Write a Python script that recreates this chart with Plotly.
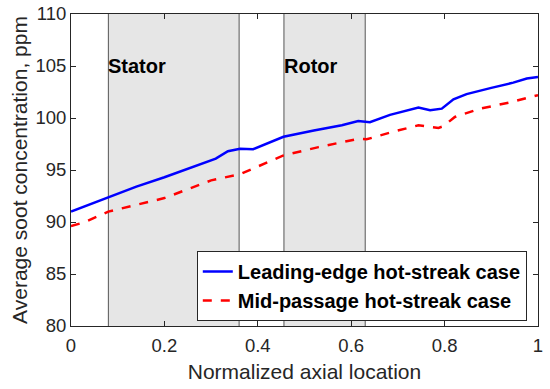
import plotly.graph_objects as go

# Data
le_x = [0, 0.03, 0.08, 0.14, 0.2, 0.27, 0.31, 0.336, 0.362, 0.39, 0.455, 0.52, 0.58,
        0.615, 0.64, 0.683, 0.72, 0.744, 0.769, 0.794, 0.819, 0.847, 0.9, 0.947, 0.976, 1.0]
le_y = [91.0, 91.5, 92.4, 93.4, 94.3, 95.4, 96.1, 96.8, 97.05, 97.0, 98.2, 98.8, 99.3,
        99.7, 99.6, 100.3, 100.7, 101.0, 100.75, 100.9, 101.8, 102.3, 102.9, 103.4, 103.8, 103.95]

mp_x = [0, 0.03, 0.08, 0.2, 0.3, 0.362, 0.455, 0.53, 0.615, 0.633, 0.683, 0.744,
        0.787, 0.797, 0.822, 0.876, 0.94, 1.0]
mp_y = [89.6, 90.0, 91.0, 92.3, 94.0, 94.6, 96.4, 97.2, 98.0, 97.95, 98.6, 99.3,
        99.05, 99.2, 100.1, 100.9, 101.5, 102.2]

regions = ["Stator", "Rotor"]
region_start = [0.08, 0.456]
region_end = [0.36, 0.63]
label_y = [105, 105]

x_ticks = [0, 0.2, 0.4, 0.6, 0.8, 1]
x_tick_text = ["0", "0.2", "0.4", "0.6", "0.8", "1"]
y_ticks = [80, 85, 90, 95, 100, 105, 110]

FONT = "Liberation Sans, Arial, Helvetica, sans-serif"
AX = "#262626"

fig = go.Figure()
fig.add_trace(go.Scatter(x=le_x, y=le_y, mode="lines", name="<b>Leading-edge hot-streak case</b>",
                         line=dict(color="#0000ff", width=2.5)))
fig.add_trace(go.Scatter(x=mp_x, y=mp_y, mode="lines", name="<b>Mid-passage hot-streak case</b>",
                         line=dict(color="#ff0000", width=2.5, dash="dash")))

for name, x0, x1, ly in zip(regions, region_start, region_end, label_y):
    fig.add_shape(type="rect", x0=x0, x1=x1, y0=80, y1=110, xref="x", yref="y",
                  fillcolor="#e6e6e6", line=dict(width=0), layer="below")
    for xv in (x0, x1):
        fig.add_shape(type="line", x0=xv, x1=xv, y0=80, y1=110, xref="x", yref="y",
                      line=dict(color="#555555", width=1), layer="below")
    fig.add_annotation(x=x0, y=ly, xref="x", yref="y", text="<b>" + name + "</b>",
                       showarrow=False, xanchor="left", yanchor="middle", xshift=-2,
                       font=dict(family=FONT, size=20, color="#000000"))

axis_common = dict(showline=True, linecolor=AX, linewidth=1, mirror="ticks",
                   ticks="inside", ticklen=5, tickcolor=AX, showgrid=False, zeroline=False,
                   automargin=False,
                   tickfont=dict(family=FONT, size=18.5, color=AX))

fig.update_xaxes(range=[0, 1], tickvals=x_ticks, ticktext=x_tick_text, ticklabelstandoff=3,
                 title=dict(text="Normalized axial location", standoff=9,
                            font=dict(family=FONT, size=21, color=AX)), **axis_common)
fig.update_yaxes(range=[80, 110], tickvals=y_ticks,
                 title=dict(text="Average soot concentration, ppm", standoff=2,
                            font=dict(family=FONT, size=21, color=AX)), **axis_common)

fig.update_layout(
    width=550, height=389,
    margin=dict(l=71, r=12, t=14, b=63),
    plot_bgcolor="white", paper_bgcolor="white",
    legend=dict(x=0.976, y=0.016, xanchor="right", yanchor="bottom",
                bgcolor="white", bordercolor=AX, borderwidth=1,
                font=dict(family=FONT, size=20, color="#000000"),
                tracegroupgap=0, itemwidth=30),
    font=dict(family=FONT),
)

# Remove the browser's default 8px body margin so the figure sits at the window origin.
fig.write_html("out.html", config={"displayModeBar": False},
               post_script="document.body.style.margin='0';document.body.style.overflow='hidden';")
